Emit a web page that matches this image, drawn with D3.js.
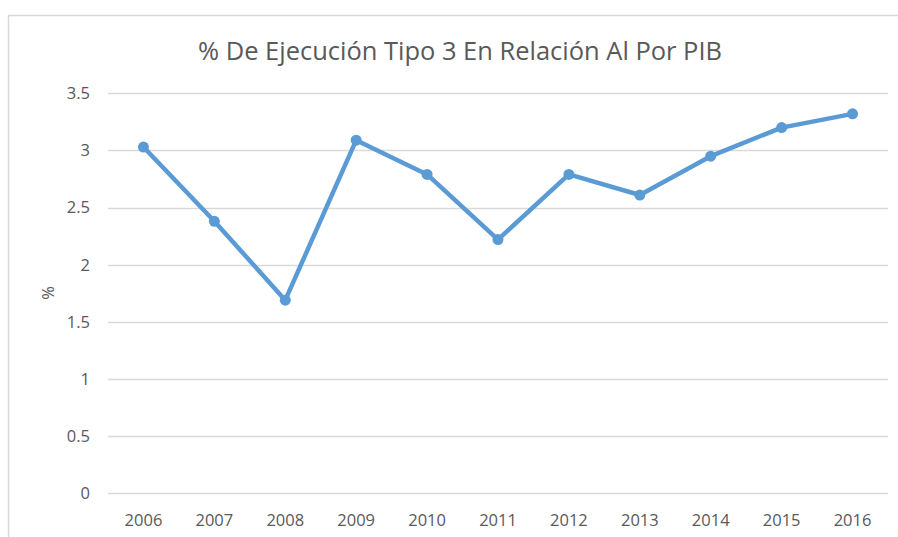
<!DOCTYPE html>
<html>
<head>
<meta charset="utf-8">
<script src="https://cdn.jsdelivr.net/npm/d3@7/dist/d3.min.js"></script>
<style>
  html, body { margin: 0; padding: 0; background: #fff; }
  svg { display: block; }
  text { font-family: "Open Sans", "Noto Sans", sans-serif; fill: #595959; }
</style>
</head>
<body>
<svg id="chart" width="898" height="537"></svg>
<script>
const years = ["2006","2007","2008","2009","2010","2011","2012","2013","2014","2015","2016"];
const values = [3.03, 2.38, 1.69, 3.09, 2.79, 2.22, 2.79, 2.61, 2.95, 3.20, 3.32];
const yTicks = [0, 0.5, 1, 1.5, 2, 2.5, 3, 3.5];
const titleText = "% De Ejecución Tipo 3 En Relación Al Por PIB";
const yAxisLabel = "%";

const svg = d3.select("#chart");
const plot = { left: 108, right: 888, top: 93.3, bottom: 493.3 };

// outer chart frame (extends beyond the visible area at right and bottom)
svg.append("rect")
  .attr("x", 8.5).attr("y", 15.5)
  .attr("width", 1000).attr("height", 1000)
  .attr("fill", "#fff").attr("stroke", "#d9d9d9").attr("stroke-width", 1.5);

const x = d3.scaleBand().domain(years).range([plot.left, plot.right]).padding(0);
const y = d3.scaleLinear().domain([0, 3.5]).range([plot.bottom, plot.top]);

// gridlines
svg.append("g")
  .selectAll("line").data(yTicks).join("line")
  .attr("x1", plot.left).attr("x2", plot.right)
  .attr("y1", d => Math.round(y(d)) + 0.5).attr("y2", d => Math.round(y(d)) + 0.5)
  .attr("stroke", "#d9d9d9").attr("stroke-width", 1.3);

// y axis
const yAxis = d3.axisLeft(y).tickValues(yTicks).tickSize(0).tickPadding(0)
  .tickFormat(d => String(d));
const gy = svg.append("g").attr("transform", `translate(${90},0)`).call(yAxis);
gy.select(".domain").remove();
gy.selectAll("text").style("font-size", "16.5px").attr("fill", "#595959")
  .style("font-family", "'Open Sans', sans-serif");

// x axis
const xAxis = d3.axisBottom(x).tickSize(0).tickPadding(0);
const gx = svg.append("g").attr("transform", `translate(0,${514})`).call(xAxis);
gx.select(".domain").remove();
gx.selectAll("text").style("font-size", "16.5px").attr("fill", "#595959")
  .style("font-family", "'Open Sans', sans-serif");

// line
const data = years.map((yr, i) => ({ yr, v: values[i] }));
const line = d3.line().x(d => x(d.yr) + x.bandwidth() / 2).y(d => y(d.v));
svg.append("path").datum(data)
  .attr("d", line)
  .attr("fill", "none").attr("stroke", "#5b9bd5")
  .attr("stroke-width", 4.5).attr("stroke-linejoin", "round").attr("stroke-linecap", "round");

svg.append("g").selectAll("circle").data(data).join("circle")
  .attr("cx", d => x(d.yr) + x.bandwidth() / 2)
  .attr("cy", d => y(d.v))
  .attr("r", 5.5)
  .attr("fill", "#5b9bd5");

// title, fitted to the reference width
const title = svg.append("text")
  .attr("x", 460).attr("y", 60)
  .attr("text-anchor", "middle")
  .style("font-size", "20px")
  .text(titleText);
const w = title.node().getComputedTextLength();
title.style("font-size", (20 * 524 / w).toFixed(2) + "px");

// y axis label
svg.append("text")
  .attr("transform", "translate(54,293) rotate(-90)")
  .attr("text-anchor", "middle")
  .style("font-size", "16.5px")
  .text(yAxisLabel);
</script>
</body>
</html>
